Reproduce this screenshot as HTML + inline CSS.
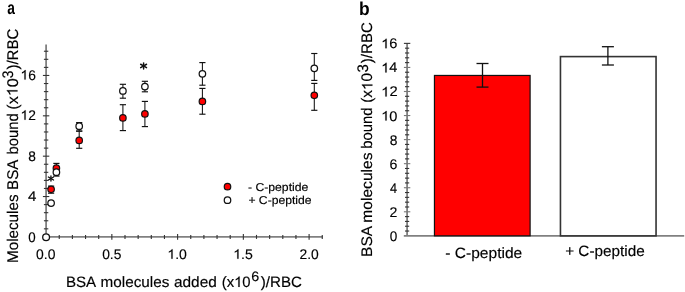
<!DOCTYPE html>
<html><head><meta charset="utf-8"><style>
html,body{margin:0;padding:0;background:#fff;}
svg{display:block;will-change:transform;}
text{font-family:"Liberation Sans",sans-serif;white-space:pre;font-kerning:none;text-rendering:geometricPrecision;stroke:#000;stroke-width:0.15px;}
text[font-weight=bold]{stroke:none;}
path.o{stroke:#000;stroke-width:0.15px;vector-effect:non-scaling-stroke;}
</style></head><body>
<svg width="685" height="292" viewBox="0 0 685 292">
<rect width="685" height="292" fill="#fff"/>
<g transform="translate(7.19,13.70) scale(0.8608,1.1343)"><text x="0" y="0" font-size="16" font-weight="bold" fill="#000">a</text></g>
<line x1="46.1" y1="44.4" x2="46.1" y2="236.9" stroke="#808080" stroke-width="1.8"/>
<line x1="46.1" y1="236.9" x2="322.85" y2="236.9" stroke="#808080" stroke-width="1.8"/>
<line x1="43.90" y1="228.83" x2="48.30" y2="228.83" stroke="#333" stroke-width="1.1"/>
<line x1="43.90" y1="220.76" x2="48.30" y2="220.76" stroke="#333" stroke-width="1.1"/>
<line x1="43.90" y1="212.68" x2="48.30" y2="212.68" stroke="#333" stroke-width="1.1"/>
<line x1="43.90" y1="204.61" x2="48.30" y2="204.61" stroke="#333" stroke-width="1.1"/>
<line x1="42.90" y1="196.54" x2="49.30" y2="196.54" stroke="#333" stroke-width="1.1"/>
<line x1="43.90" y1="188.47" x2="48.30" y2="188.47" stroke="#333" stroke-width="1.1"/>
<line x1="43.90" y1="180.40" x2="48.30" y2="180.40" stroke="#333" stroke-width="1.1"/>
<line x1="43.90" y1="172.32" x2="48.30" y2="172.32" stroke="#333" stroke-width="1.1"/>
<line x1="43.90" y1="164.25" x2="48.30" y2="164.25" stroke="#333" stroke-width="1.1"/>
<line x1="42.90" y1="156.18" x2="49.30" y2="156.18" stroke="#333" stroke-width="1.1"/>
<line x1="43.90" y1="148.11" x2="48.30" y2="148.11" stroke="#333" stroke-width="1.1"/>
<line x1="43.90" y1="140.04" x2="48.30" y2="140.04" stroke="#333" stroke-width="1.1"/>
<line x1="43.90" y1="131.96" x2="48.30" y2="131.96" stroke="#333" stroke-width="1.1"/>
<line x1="43.90" y1="123.89" x2="48.30" y2="123.89" stroke="#333" stroke-width="1.1"/>
<line x1="42.90" y1="115.82" x2="49.30" y2="115.82" stroke="#333" stroke-width="1.1"/>
<line x1="43.90" y1="107.75" x2="48.30" y2="107.75" stroke="#333" stroke-width="1.1"/>
<line x1="43.90" y1="99.68" x2="48.30" y2="99.68" stroke="#333" stroke-width="1.1"/>
<line x1="43.90" y1="91.60" x2="48.30" y2="91.60" stroke="#333" stroke-width="1.1"/>
<line x1="43.90" y1="83.53" x2="48.30" y2="83.53" stroke="#333" stroke-width="1.1"/>
<line x1="42.90" y1="75.46" x2="49.30" y2="75.46" stroke="#333" stroke-width="1.1"/>
<line x1="43.90" y1="67.39" x2="48.30" y2="67.39" stroke="#333" stroke-width="1.1"/>
<line x1="43.90" y1="59.32" x2="48.30" y2="59.32" stroke="#333" stroke-width="1.1"/>
<line x1="43.90" y1="51.24" x2="48.30" y2="51.24" stroke="#333" stroke-width="1.1"/>
<line x1="59.25" y1="234.90" x2="59.25" y2="238.90" stroke="#333" stroke-width="1.1"/>
<line x1="72.40" y1="234.90" x2="72.40" y2="238.90" stroke="#333" stroke-width="1.1"/>
<line x1="85.55" y1="234.90" x2="85.55" y2="238.90" stroke="#333" stroke-width="1.1"/>
<line x1="98.70" y1="234.90" x2="98.70" y2="238.90" stroke="#333" stroke-width="1.1"/>
<line x1="111.85" y1="234.00" x2="111.85" y2="239.80" stroke="#333" stroke-width="1.1"/>
<line x1="125.00" y1="234.90" x2="125.00" y2="238.90" stroke="#333" stroke-width="1.1"/>
<line x1="138.15" y1="234.90" x2="138.15" y2="238.90" stroke="#333" stroke-width="1.1"/>
<line x1="151.30" y1="234.90" x2="151.30" y2="238.90" stroke="#333" stroke-width="1.1"/>
<line x1="164.45" y1="234.90" x2="164.45" y2="238.90" stroke="#333" stroke-width="1.1"/>
<line x1="177.60" y1="234.00" x2="177.60" y2="239.80" stroke="#333" stroke-width="1.1"/>
<line x1="190.75" y1="234.90" x2="190.75" y2="238.90" stroke="#333" stroke-width="1.1"/>
<line x1="203.90" y1="234.90" x2="203.90" y2="238.90" stroke="#333" stroke-width="1.1"/>
<line x1="217.05" y1="234.90" x2="217.05" y2="238.90" stroke="#333" stroke-width="1.1"/>
<line x1="230.20" y1="234.90" x2="230.20" y2="238.90" stroke="#333" stroke-width="1.1"/>
<line x1="243.35" y1="234.00" x2="243.35" y2="239.80" stroke="#333" stroke-width="1.1"/>
<line x1="256.50" y1="234.90" x2="256.50" y2="238.90" stroke="#333" stroke-width="1.1"/>
<line x1="269.65" y1="234.90" x2="269.65" y2="238.90" stroke="#333" stroke-width="1.1"/>
<line x1="282.80" y1="234.90" x2="282.80" y2="238.90" stroke="#333" stroke-width="1.1"/>
<line x1="295.95" y1="234.90" x2="295.95" y2="238.90" stroke="#333" stroke-width="1.1"/>
<line x1="309.10" y1="234.00" x2="309.10" y2="239.80" stroke="#333" stroke-width="1.1"/>
<line x1="322.25" y1="234.90" x2="322.25" y2="238.90" stroke="#333" stroke-width="1.1"/>
<g transform="translate(20.48,79.60) scale(0.9859,1.0000)"><text x="0" y="0" font-size="14" font-weight="normal" fill="#000"> 6</text><path class="o" fill="#000" transform="translate(0.000,0) scale(0.00684,-0.00684)" d="M583 0L763 0L763 1409L646 1409Q600 1310 490 1215Q380 1125 221 1061L221 894Q300 925 400 980Q510 1040 583 1100Z"/></g>
<g transform="translate(20.48,119.80) scale(0.9850,1.0000)"><text x="0" y="0" font-size="14" font-weight="normal" fill="#000"> 2</text><path class="o" fill="#000" transform="translate(0.000,0) scale(0.00684,-0.00684)" d="M583 0L763 0L763 1409L646 1409Q600 1310 490 1215Q380 1125 221 1061L221 894Q300 925 400 980Q510 1040 583 1100Z"/></g>
<g transform="translate(28.25,160.60) scale(0.9802,1.0000)"><text x="0" y="0" font-size="14" font-weight="normal" fill="#000">8</text></g>
<g transform="translate(27.90,200.70) scale(1.0784,1.0000)"><text x="0" y="0" font-size="14" font-weight="normal" fill="#000">4</text></g>
<g transform="translate(28.37,241.60) scale(0.9524,1.0000)"><text x="0" y="0" font-size="14" font-weight="normal" fill="#000">0</text></g>
<g transform="translate(36.10,258.80) scale(0.9945,1.0000)"><text x="0" y="0" font-size="14" font-weight="normal" fill="#000">0.0</text></g>
<g transform="translate(102.15,258.80) scale(0.9869,1.0000)"><text x="0" y="0" font-size="14" font-weight="normal" fill="#000">0.5</text></g>
<g transform="translate(167.36,258.80) scale(1.0023,1.0000)"><text x="0" y="0" font-size="14" font-weight="normal" fill="#000"> .0</text><path class="o" fill="#000" transform="translate(0.000,0) scale(0.00684,-0.00684)" d="M583 0L763 0L763 1409L646 1409Q600 1310 490 1215Q380 1125 221 1061L221 894Q300 925 400 980Q510 1040 583 1100Z"/></g>
<g transform="translate(233.25,258.80) scale(1.0081,1.0000)"><text x="0" y="0" font-size="14" font-weight="normal" fill="#000"> .5</text><path class="o" fill="#000" transform="translate(0.000,0) scale(0.00684,-0.00684)" d="M583 0L763 0L763 1409L646 1409Q600 1310 490 1215Q380 1125 221 1061L221 894Q300 925 400 980Q510 1040 583 1100Z"/></g>
<g transform="translate(299.51,258.80) scale(0.9890,1.0000)"><text x="0" y="0" font-size="14" font-weight="normal" fill="#000">2.0</text></g>
<g transform="translate(65.89,286.90) scale(1.0104,1.0000)"><text x="0" y="0" font-size="15" font-weight="normal" fill="#000">BSA</text></g>
<g transform="translate(100.53,286.90) scale(1.0197,1.0000)"><text x="0" y="0" font-size="15" font-weight="normal" fill="#000">molecules</text></g>
<g transform="translate(173.98,286.90) scale(1.0274,1.0000)"><text x="0" y="0" font-size="15" font-weight="normal" fill="#000">added</text></g>
<g transform="translate(221.71,286.90) scale(0.9910,1.0000)"><text x="0" y="0" font-size="15" font-weight="normal" fill="#000">(x 0</text><path class="o" fill="#000" transform="translate(12.495,0) scale(0.00732,-0.00732)" d="M583 0L763 0L763 1409L646 1409Q600 1310 490 1215Q380 1125 221 1061L221 894Q300 925 400 980Q510 1040 583 1100Z"/></g>
<g transform="translate(251.18,281.00) scale(1.0628,1.0000)"><text x="0" y="0" font-size="13.5" font-weight="normal" fill="#000">6</text></g>
<g transform="translate(260.75,286.90) scale(1.0112,1.0000)"><text x="0" y="0" font-size="15" font-weight="normal" fill="#000">)/RBC</text></g>
<g transform="translate(17.50,262.92) rotate(-90) scale(0.9802,1)"><text x="0" y="0" font-size="15.5" font-weight="normal" fill="#000">Molecules</text></g>
<g transform="translate(17.50,189.91) rotate(-90) scale(0.9745,1)"><text x="0" y="0" font-size="15.5" font-weight="normal" fill="#000">BSA</text></g>
<g transform="translate(17.50,154.39) rotate(-90) scale(0.9532,1)"><text x="0" y="0" font-size="15.5" font-weight="normal" fill="#000">bound</text></g>
<g transform="translate(17.50,109.67) rotate(-90) scale(1.0427,1)"><text x="0" y="0" font-size="15.5" font-weight="normal" fill="#000">(x 0</text><path class="o" fill="#000" transform="translate(12.912,0) scale(0.00757,-0.00757)" d="M583 0L763 0L763 1409L646 1409Q600 1310 490 1215Q380 1125 221 1061L221 894Q300 925 400 980Q510 1040 583 1100Z"/></g>
<g transform="translate(12.80,78.15) rotate(-90) scale(0.9039,1)"><text x="0" y="0" font-size="15.3" font-weight="normal" fill="#000">3</text></g>
<g transform="translate(17.50,69.55) rotate(-90) scale(0.9690,1)"><text x="0" y="0" font-size="15.5" font-weight="normal" fill="#000">)/RBC</text></g>

<line x1="51.1" y1="186.1" x2="51.1" y2="189.3" stroke="#111" stroke-width="1.05"/><line x1="48.00" y1="186.1" x2="54.20" y2="186.1" stroke="#111" stroke-width="1.15"/><line x1="51.1" y1="193.2" x2="51.1" y2="189.3" stroke="#111" stroke-width="1.05"/><line x1="48.00" y1="193.2" x2="54.20" y2="193.2" stroke="#111" stroke-width="1.15"/>
<line x1="56.4" y1="176.1" x2="56.4" y2="172.2" stroke="#111" stroke-width="1.05"/><line x1="53.30" y1="176.1" x2="59.50" y2="176.1" stroke="#111" stroke-width="1.15"/>
<line x1="56.4" y1="163.4" x2="56.4" y2="168.2" stroke="#111" stroke-width="1.05"/><line x1="53.30" y1="163.4" x2="59.50" y2="163.4" stroke="#111" stroke-width="1.15"/>
<line x1="79.2" y1="122.6" x2="79.2" y2="126.2" stroke="#111" stroke-width="1.05"/><line x1="76.10" y1="122.6" x2="82.30" y2="122.6" stroke="#111" stroke-width="1.15"/><line x1="79.2" y1="131.0" x2="79.2" y2="126.2" stroke="#111" stroke-width="1.05"/><line x1="76.10" y1="131.0" x2="82.30" y2="131.0" stroke="#111" stroke-width="1.15"/>
<line x1="79.2" y1="131.2" x2="79.2" y2="140.4" stroke="#111" stroke-width="1.05"/><line x1="76.10" y1="131.2" x2="82.30" y2="131.2" stroke="#111" stroke-width="1.15"/><line x1="79.2" y1="148.3" x2="79.2" y2="140.4" stroke="#111" stroke-width="1.05"/><line x1="76.10" y1="148.3" x2="82.30" y2="148.3" stroke="#111" stroke-width="1.15"/>
<line x1="122.9" y1="84.3" x2="122.9" y2="90.9" stroke="#111" stroke-width="1.05"/><line x1="119.80" y1="84.3" x2="126.00" y2="84.3" stroke="#111" stroke-width="1.15"/><line x1="122.9" y1="98.2" x2="122.9" y2="90.9" stroke="#111" stroke-width="1.05"/><line x1="119.80" y1="98.2" x2="126.00" y2="98.2" stroke="#111" stroke-width="1.15"/>
<line x1="122.9" y1="104.7" x2="122.9" y2="117.9" stroke="#111" stroke-width="1.05"/><line x1="119.80" y1="104.7" x2="126.00" y2="104.7" stroke="#111" stroke-width="1.15"/><line x1="122.9" y1="130.6" x2="122.9" y2="117.9" stroke="#111" stroke-width="1.05"/><line x1="119.80" y1="130.6" x2="126.00" y2="130.6" stroke="#111" stroke-width="1.15"/>
<line x1="144.9" y1="81.3" x2="144.9" y2="86.6" stroke="#111" stroke-width="1.05"/><line x1="141.80" y1="81.3" x2="148.00" y2="81.3" stroke="#111" stroke-width="1.15"/><line x1="144.9" y1="91.8" x2="144.9" y2="86.6" stroke="#111" stroke-width="1.05"/><line x1="141.80" y1="91.8" x2="148.00" y2="91.8" stroke="#111" stroke-width="1.15"/>
<line x1="144.9" y1="101.4" x2="144.9" y2="113.9" stroke="#111" stroke-width="1.05"/><line x1="141.80" y1="101.4" x2="148.00" y2="101.4" stroke="#111" stroke-width="1.15"/><line x1="144.9" y1="126.6" x2="144.9" y2="113.9" stroke="#111" stroke-width="1.05"/><line x1="141.80" y1="126.6" x2="148.00" y2="126.6" stroke="#111" stroke-width="1.15"/>
<line x1="202.4" y1="62.6" x2="202.4" y2="73.8" stroke="#111" stroke-width="1.05"/><line x1="199.30" y1="62.6" x2="205.50" y2="62.6" stroke="#111" stroke-width="1.15"/><line x1="202.4" y1="85.2" x2="202.4" y2="73.8" stroke="#111" stroke-width="1.05"/><line x1="199.30" y1="85.2" x2="205.50" y2="85.2" stroke="#111" stroke-width="1.15"/>
<line x1="202.4" y1="88.4" x2="202.4" y2="101.4" stroke="#111" stroke-width="1.05"/><line x1="199.30" y1="88.4" x2="205.50" y2="88.4" stroke="#111" stroke-width="1.15"/><line x1="202.4" y1="114.2" x2="202.4" y2="101.4" stroke="#111" stroke-width="1.05"/><line x1="199.30" y1="114.2" x2="205.50" y2="114.2" stroke="#111" stroke-width="1.15"/>
<line x1="314.3" y1="53.5" x2="314.3" y2="68.3" stroke="#111" stroke-width="1.05"/><line x1="311.20" y1="53.5" x2="317.40" y2="53.5" stroke="#111" stroke-width="1.15"/><line x1="314.3" y1="80.4" x2="314.3" y2="68.3" stroke="#111" stroke-width="1.05"/><line x1="311.20" y1="80.4" x2="317.40" y2="80.4" stroke="#111" stroke-width="1.15"/>
<line x1="314.3" y1="83.4" x2="314.3" y2="95.3" stroke="#111" stroke-width="1.05"/><line x1="311.20" y1="83.4" x2="317.40" y2="83.4" stroke="#111" stroke-width="1.15"/><line x1="314.3" y1="110.3" x2="314.3" y2="95.3" stroke="#111" stroke-width="1.05"/><line x1="311.20" y1="110.3" x2="317.40" y2="110.3" stroke="#111" stroke-width="1.15"/>
<circle cx="51.1" cy="189.3" r="3.25" fill="#ff0000" stroke="#111" stroke-width="1.2"/>
<circle cx="56.4" cy="168.2" r="3.25" fill="#ff0000" stroke="#111" stroke-width="1.2"/>
<circle cx="79.2" cy="140.4" r="3.25" fill="#ff0000" stroke="#111" stroke-width="1.2"/>
<circle cx="122.9" cy="117.9" r="3.25" fill="#ff0000" stroke="#111" stroke-width="1.2"/>
<circle cx="144.9" cy="113.9" r="3.25" fill="#ff0000" stroke="#111" stroke-width="1.2"/>
<circle cx="202.4" cy="101.4" r="3.25" fill="#ff0000" stroke="#111" stroke-width="1.2"/>
<circle cx="314.3" cy="95.3" r="3.25" fill="#ff0000" stroke="#111" stroke-width="1.2"/>
<circle cx="51.1" cy="203.0" r="3.25" fill="#fff" stroke="#111" stroke-width="1.25"/>
<circle cx="56.4" cy="172.2" r="3.25" fill="#fff" stroke="#111" stroke-width="1.25"/>
<circle cx="79.2" cy="126.2" r="3.25" fill="#fff" stroke="#111" stroke-width="1.25"/>
<circle cx="122.9" cy="90.9" r="3.25" fill="#fff" stroke="#111" stroke-width="1.25"/>
<circle cx="144.9" cy="86.6" r="3.25" fill="#fff" stroke="#111" stroke-width="1.25"/>
<circle cx="202.4" cy="73.8" r="3.25" fill="#fff" stroke="#111" stroke-width="1.25"/>
<circle cx="314.3" cy="68.3" r="3.25" fill="#fff" stroke="#111" stroke-width="1.25"/>
<circle cx="46.1" cy="237.20000000000002" r="3.4" fill="#fff" stroke="#111" stroke-width="1.3"/>
<line x1="143.6" y1="62.85" x2="143.6" y2="69.05" stroke="#111" stroke-width="1.45" stroke-linecap="round"/><line x1="140.66" y1="64.25" x2="146.54" y2="67.65" stroke="#111" stroke-width="1.45" stroke-linecap="round"/><line x1="140.66" y1="67.65" x2="146.54" y2="64.25" stroke="#111" stroke-width="1.45" stroke-linecap="round"/>
<line x1="50.95" y1="175.90" x2="50.95" y2="181.10" stroke="#111" stroke-width="1.35" stroke-linecap="round"/><line x1="48.35" y1="177.00" x2="53.55" y2="180.00" stroke="#111" stroke-width="1.35" stroke-linecap="round"/><line x1="48.35" y1="180.00" x2="53.55" y2="177.00" stroke="#111" stroke-width="1.35" stroke-linecap="round"/>
<circle cx="227.5" cy="186.7" r="3.25" fill="#ff0000" stroke="#111" stroke-width="1.2"/>
<circle cx="227.5" cy="200.2" r="3.25" fill="#fff" stroke="#111" stroke-width="1.25"/>
<g transform="translate(247.91,190.60) scale(1.0628,1.0000)"><text x="0" y="0" font-size="11.5" font-weight="normal" fill="#000">- C-peptide</text></g>
<g transform="translate(248.39,204.20) scale(1.0571,1.0000)"><text x="0" y="0" font-size="11.5" font-weight="normal" fill="#000">+ C-peptide</text></g>
<g transform="translate(358.98,14.60) scale(1.0545,1.1279)"><text x="0" y="0" font-size="16.5" font-weight="bold" fill="#000">b</text></g>
<line x1="407.1" y1="43.4" x2="407.1" y2="235.85" stroke="#808080" stroke-width="1.8"/>
<line x1="403.8" y1="235.85" x2="684.2" y2="235.85" stroke="#808080" stroke-width="1.8"/>
<line x1="405.00" y1="231.04" x2="409.20" y2="231.04" stroke="#333" stroke-width="1.1"/>
<line x1="405.00" y1="226.23" x2="409.20" y2="226.23" stroke="#333" stroke-width="1.1"/>
<line x1="405.00" y1="221.41" x2="409.20" y2="221.41" stroke="#333" stroke-width="1.1"/>
<line x1="405.00" y1="216.60" x2="409.20" y2="216.60" stroke="#333" stroke-width="1.1"/>
<line x1="403.90" y1="211.79" x2="410.30" y2="211.79" stroke="#777" stroke-width="1.1"/>
<line x1="405.00" y1="206.98" x2="409.20" y2="206.98" stroke="#333" stroke-width="1.1"/>
<line x1="405.00" y1="202.17" x2="409.20" y2="202.17" stroke="#333" stroke-width="1.1"/>
<line x1="405.00" y1="197.35" x2="409.20" y2="197.35" stroke="#333" stroke-width="1.1"/>
<line x1="405.00" y1="192.54" x2="409.20" y2="192.54" stroke="#333" stroke-width="1.1"/>
<line x1="403.90" y1="187.73" x2="410.30" y2="187.73" stroke="#777" stroke-width="1.1"/>
<line x1="405.00" y1="182.92" x2="409.20" y2="182.92" stroke="#333" stroke-width="1.1"/>
<line x1="405.00" y1="178.11" x2="409.20" y2="178.11" stroke="#333" stroke-width="1.1"/>
<line x1="405.00" y1="173.29" x2="409.20" y2="173.29" stroke="#333" stroke-width="1.1"/>
<line x1="405.00" y1="168.48" x2="409.20" y2="168.48" stroke="#333" stroke-width="1.1"/>
<line x1="403.90" y1="163.67" x2="410.30" y2="163.67" stroke="#777" stroke-width="1.1"/>
<line x1="405.00" y1="158.86" x2="409.20" y2="158.86" stroke="#333" stroke-width="1.1"/>
<line x1="405.00" y1="154.05" x2="409.20" y2="154.05" stroke="#333" stroke-width="1.1"/>
<line x1="405.00" y1="149.23" x2="409.20" y2="149.23" stroke="#333" stroke-width="1.1"/>
<line x1="405.00" y1="144.42" x2="409.20" y2="144.42" stroke="#333" stroke-width="1.1"/>
<line x1="403.90" y1="139.61" x2="410.30" y2="139.61" stroke="#777" stroke-width="1.1"/>
<line x1="405.00" y1="134.80" x2="409.20" y2="134.80" stroke="#333" stroke-width="1.1"/>
<line x1="405.00" y1="129.99" x2="409.20" y2="129.99" stroke="#333" stroke-width="1.1"/>
<line x1="405.00" y1="125.17" x2="409.20" y2="125.17" stroke="#333" stroke-width="1.1"/>
<line x1="405.00" y1="120.36" x2="409.20" y2="120.36" stroke="#333" stroke-width="1.1"/>
<line x1="403.90" y1="115.55" x2="410.30" y2="115.55" stroke="#777" stroke-width="1.1"/>
<line x1="405.00" y1="110.74" x2="409.20" y2="110.74" stroke="#333" stroke-width="1.1"/>
<line x1="405.00" y1="105.93" x2="409.20" y2="105.93" stroke="#333" stroke-width="1.1"/>
<line x1="405.00" y1="101.11" x2="409.20" y2="101.11" stroke="#333" stroke-width="1.1"/>
<line x1="405.00" y1="96.30" x2="409.20" y2="96.30" stroke="#333" stroke-width="1.1"/>
<line x1="403.90" y1="91.49" x2="410.30" y2="91.49" stroke="#777" stroke-width="1.1"/>
<line x1="405.00" y1="86.68" x2="409.20" y2="86.68" stroke="#333" stroke-width="1.1"/>
<line x1="405.00" y1="81.87" x2="409.20" y2="81.87" stroke="#333" stroke-width="1.1"/>
<line x1="405.00" y1="77.05" x2="409.20" y2="77.05" stroke="#333" stroke-width="1.1"/>
<line x1="405.00" y1="72.24" x2="409.20" y2="72.24" stroke="#333" stroke-width="1.1"/>
<line x1="403.90" y1="67.43" x2="410.30" y2="67.43" stroke="#777" stroke-width="1.1"/>
<line x1="405.00" y1="62.62" x2="409.20" y2="62.62" stroke="#333" stroke-width="1.1"/>
<line x1="405.00" y1="57.81" x2="409.20" y2="57.81" stroke="#333" stroke-width="1.1"/>
<line x1="405.00" y1="52.99" x2="409.20" y2="52.99" stroke="#333" stroke-width="1.1"/>
<line x1="405.00" y1="48.18" x2="409.20" y2="48.18" stroke="#333" stroke-width="1.1"/>
<line x1="403.90" y1="43.37" x2="410.30" y2="43.37" stroke="#333" stroke-width="1.1"/>
<g transform="translate(389.76,240.85) scale(0.9673,1.0000)"><text x="0" y="0" font-size="14" font-weight="normal" fill="#000">0</text></g>
<g transform="translate(389.59,216.79) scale(1.0093,1.0000)"><text x="0" y="0" font-size="14" font-weight="normal" fill="#000">2</text></g>
<g transform="translate(390.05,192.73) scale(0.9104,1.0000)"><text x="0" y="0" font-size="14" font-weight="normal" fill="#000">4</text></g>
<g transform="translate(389.59,168.67) scale(1.0093,1.0000)"><text x="0" y="0" font-size="14" font-weight="normal" fill="#000">6</text></g>
<g transform="translate(389.75,144.61) scale(0.9878,1.0000)"><text x="0" y="0" font-size="14" font-weight="normal" fill="#000">8</text></g>
<g transform="translate(381.20,120.55) scale(1.0417,1.0000)"><text x="0" y="0" font-size="14" font-weight="normal" fill="#000"> 0</text><path class="o" fill="#000" transform="translate(0.000,0) scale(0.00684,-0.00684)" d="M583 0L763 0L763 1409L646 1409Q600 1310 490 1215Q380 1125 221 1061L221 894Q300 925 400 980Q510 1040 583 1100Z"/></g>
<g transform="translate(381.18,96.49) scale(1.0526,1.0000)"><text x="0" y="0" font-size="14" font-weight="normal" fill="#000"> 2</text><path class="o" fill="#000" transform="translate(0.000,0) scale(0.00684,-0.00684)" d="M583 0L763 0L763 1409L646 1409Q600 1310 490 1215Q380 1125 221 1061L221 894Q300 925 400 980Q510 1040 583 1100Z"/></g>
<g transform="translate(381.21,72.43) scale(1.0309,1.0000)"><text x="0" y="0" font-size="14" font-weight="normal" fill="#000"> 4</text><path class="o" fill="#000" transform="translate(0.000,0) scale(0.00684,-0.00684)" d="M583 0L763 0L763 1409L646 1409Q600 1310 490 1215Q380 1125 221 1061L221 894Q300 925 400 980Q510 1040 583 1100Z"/></g>
<g transform="translate(381.20,48.37) scale(1.0417,1.0000)"><text x="0" y="0" font-size="14" font-weight="normal" fill="#000"> 6</text><path class="o" fill="#000" transform="translate(0.000,0) scale(0.00684,-0.00684)" d="M583 0L763 0L763 1409L646 1409Q600 1310 490 1215Q380 1125 221 1061L221 894Q300 925 400 980Q510 1040 583 1100Z"/></g>
<rect x="434.45" y="75.45" width="95.65" height="160.40" fill="#ff0000" stroke="#111" stroke-width="1.2"/>
<rect x="560.45" y="56.6" width="95.6" height="179.25" fill="#fff" stroke="#333" stroke-width="1.6"/>
<line x1="482.5" y1="63.5" x2="482.5" y2="87.1" stroke="#111" stroke-width="1.3"/><line x1="476.5" y1="63.5" x2="488.5" y2="63.5" stroke="#111" stroke-width="1.3"/><line x1="476.5" y1="87.1" x2="488.5" y2="87.1" stroke="#111" stroke-width="1.3"/>
<line x1="607.9" y1="46.7" x2="607.9" y2="65.0" stroke="#111" stroke-width="1.3"/><line x1="601.9" y1="46.7" x2="613.9" y2="46.7" stroke="#111" stroke-width="1.3"/><line x1="601.9" y1="65.0" x2="613.9" y2="65.0" stroke="#111" stroke-width="1.3"/>
<g transform="translate(445.28,257.70) scale(1.0370,1.0000)"><text x="0" y="0" font-size="15" font-weight="normal" fill="#000">- C-peptide</text></g>
<g transform="translate(565.13,255.70) scale(1.0222,1.0000)"><text x="0" y="0" font-size="15" font-weight="normal" fill="#000">+ C-peptide</text></g>
<g transform="translate(372.40,256.95) rotate(-90) scale(1.0178,1)"><text x="0" y="0" font-size="15.3" font-weight="normal" fill="#000">BSA</text></g>
<g transform="translate(372.40,222.69) rotate(-90) scale(1.0190,1)"><text x="0" y="0" font-size="15.3" font-weight="normal" fill="#000">molecules</text></g>
<g transform="translate(372.40,148.69) rotate(-90) scale(0.9706,1)"><text x="0" y="0" font-size="15.3" font-weight="normal" fill="#000">bound</text></g>
<g transform="translate(372.40,102.82) rotate(-90) scale(0.9998,1)"><text x="0" y="0" font-size="15.3" font-weight="normal" fill="#000">(x 0</text><path class="o" fill="#000" transform="translate(12.745,0) scale(0.00747,-0.00747)" d="M583 0L763 0L763 1409L646 1409Q600 1310 490 1215Q380 1125 221 1061L221 894Q300 925 400 980Q510 1040 583 1100Z"/></g>
<g transform="translate(367.90,72.60) rotate(-90) scale(0.9873,1)"><text x="0" y="0" font-size="15.3" font-weight="normal" fill="#000">3</text></g>
<g transform="translate(372.40,63.15) rotate(-90) scale(0.9841,1)"><text x="0" y="0" font-size="15.3" font-weight="normal" fill="#000">)/RBC</text></g>
</svg></body></html>
